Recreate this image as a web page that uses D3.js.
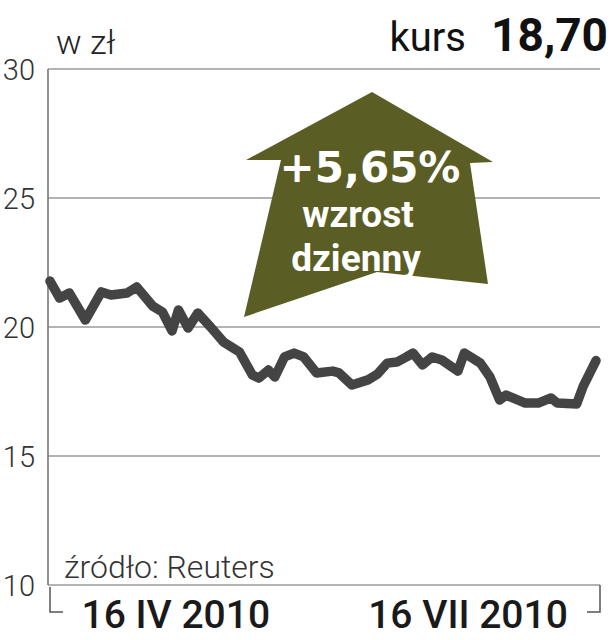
<!DOCTYPE html>
<html>
<head>
<meta charset="utf-8">
<script src="https://cdn.jsdelivr.net/npm/d3@7"></script>
<style>
  body { margin: 0; background: #fff; }
  svg { display: block; }
</style>
</head>
<body>
<svg id="chart" width="611" height="640"></svg>
<script>
// kurs akcji, marzec - sierpien 2010
const dates = [
  "2010-03-08", "2010-03-11", "2010-03-14", "2010-03-19", "2010-03-24", "2010-03-27",
  "2010-04-01", "2010-04-04", "2010-04-09", "2010-04-12", "2010-04-15", "2010-04-17",
  "2010-04-20", "2010-04-23", "2010-04-27", "2010-05-01", "2010-05-03", "2010-05-06",
  "2010-05-10", "2010-05-12", "2010-05-15", "2010-05-17", "2010-05-20", "2010-05-23",
  "2010-05-26", "2010-05-30", "2010-06-04", "2010-06-06", "2010-06-10", "2010-06-15",
  "2010-06-18", "2010-06-21", "2010-06-24", "2010-06-27", "2010-06-29", "2010-07-02",
  "2010-07-05", "2010-07-08", "2010-07-13", "2010-07-15", "2010-07-20", "2010-07-23",
  "2010-07-26", "2010-07-28", "2010-08-03", "2010-08-07", "2010-08-11", "2010-08-13",
  "2010-08-19", "2010-08-21", "2010-08-25"
];
const prices = [
  21.78, 21.12, 21.32, 20.27, 21.36, 21.24,
  21.32, 21.55, 20.81, 20.58, 19.85, 20.66,
  19.96, 20.54, 20.00, 19.42, 19.26, 19.03,
  18.14, 18.02, 18.33, 18.06, 18.84, 18.99,
  18.84, 18.22, 18.29, 18.22, 17.75, 17.95,
  18.18, 18.60, 18.64, 18.84, 18.99, 18.53,
  18.84, 18.72, 18.29, 18.99, 18.60, 18.06,
  17.17, 17.36, 17.05, 17.05, 17.25, 17.05,
  17.02, 17.70, 18.70
];
const yTicks = [10, 15, 20, 25, 30];
const xTickDates = ["2010-04-16", "2010-07-16"];
const xTickLabels = ["16 IV 2010", "16 VII 2010"];
const domainDates = ["2010-03-08", "2010-08-25"];

const unit = "w zł";
const kursLabel = "kurs";
const kursValue = "18,70";
const changeLines = ["+5,65%", "wzrost", "dzienny"];
const source = "źródło: Reuters";

const parse = d3.timeParse("%Y-%m-%d");
const data = dates.map((d, i) => ({ date: parse(d), value: prices[i] }));

const svg = d3.select("#chart");
const plotLeft = 48, plotRight = 600, plotTop = 69, plotBottom = 585;

const x = d3.scaleTime()
  .domain(domainDates.map(parse))
  .range([50, 596]);
const y = d3.scaleLinear()
  .domain([10, 30])
  .range([plotBottom, plotTop]);

// siatka + etykiety osi Y
const yAxis = d3.axisLeft(y)
  .tickValues(yTicks)
  .tickSize(0)
  .tickPadding(13);
const gy = svg.append("g")
  .attr("transform", `translate(${plotLeft},0)`)
  .call(yAxis);
gy.select(".domain").remove();
gy.selectAll("text")
  .attr("font-family", "Roboto, sans-serif")
  .attr("font-weight", 300)
  .attr("font-size", 29)
  .attr("fill", "#333")
  .attr("dy", "0.36em");

svg.append("g")
  .selectAll("line")
  .data(yTicks)
  .join("line")
  .attr("x1", plotLeft)
  .attr("x2", plotRight)
  .attr("y1", d => y(d))
  .attr("y2", d => y(d))
  .attr("stroke", "#9a9a9a")
  .attr("stroke-width", 1.6);

svg.append("line")
  .attr("x1", plotLeft).attr("x2", plotLeft)
  .attr("y1", plotTop).attr("y2", plotBottom)
  .attr("stroke", "#777")
  .attr("stroke-width", 1.6);

// nawias pod osia X
svg.append("path")
  .attr("d", `M50,${plotBottom + 2}V612H63 M${plotRight},${plotBottom}V612H587`)
  .attr("fill", "none")
  .attr("stroke", "#555")
  .attr("stroke-width", 1.5);

const xAxis = d3.axisBottom(x)
  .tickValues(xTickDates.map(parse))
  .tickFormat((d, i) => xTickLabels[i])
  .tickSize(0)
  .tickPadding(0);
const gx = svg.append("g")
  .attr("transform", `translate(0,${plotBottom})`)
  .call(xAxis);
gx.select(".domain").remove();
gx.selectAll("text")
  .attr("font-family", "Roboto, sans-serif")
  .attr("font-weight", 500)
  .attr("font-size", 39)
  .attr("fill", "#1a1a1a")
  .attr("dy", "1.1em");

// strzalka
const arrow = [[372, 92], [493, 162], [470, 163], [488, 284], [377, 272], [244, 317], [281, 160], [246, 160]];
svg.append("path")
  .attr("d", d3.line()(arrow) + "Z")
  .attr("fill", "#5a5d24");

svg.append("text")
  .attr("x", 370).attr("y", 182)
  .attr("text-anchor", "middle")
  .attr("font-family", "'DejaVu Sans', sans-serif")
  .attr("font-weight", 700)
  .attr("font-size", 42)
  .attr("fill", "#fff")
  .text(changeLines[0]);
svg.append("text")
  .attr("x", 358).attr("y", 227)
  .attr("text-anchor", "middle")
  .attr("font-family", "Roboto, sans-serif")
  .attr("font-weight", 700)
  .attr("font-size", 37)
  .attr("fill", "#fff")
  .text(changeLines[1]);
svg.append("text")
  .attr("x", 356).attr("y", 271)
  .attr("text-anchor", "middle")
  .attr("font-family", "Roboto, sans-serif")
  .attr("font-weight", 700)
  .attr("font-size", 37)
  .attr("fill", "#fff")
  .text(changeLines[2]);

// linia kursu
svg.append("path")
  .datum(data)
  .attr("d", d3.line().x(d => x(d.date)).y(d => y(d.value)))
  .attr("fill", "none")
  .attr("stroke", "#444")
  .attr("stroke-width", 9.5)
  .attr("stroke-linejoin", "round")
  .attr("stroke-linecap", "round");

// naglowek
svg.append("text")
  .attr("x", 56).attr("y", 54)
  .attr("font-family", "Roboto, sans-serif")
  .attr("font-weight", 300)
  .attr("font-size", 34)
  .attr("fill", "#222")
  .text(unit);
svg.append("text")
  .attr("x", 466).attr("y", 51)
  .attr("text-anchor", "end")
  .attr("font-family", "Roboto, sans-serif")
  .attr("font-weight", 400)
  .attr("font-size", 40)
  .attr("fill", "#111")
  .text(kursLabel);
svg.append("text")
  .attr("x", 608).attr("y", 51)
  .attr("text-anchor", "end")
  .attr("font-family", "Roboto, sans-serif")
  .attr("font-weight", 700)
  .attr("font-size", 46)
  .attr("fill", "#111")
  .text(kursValue);

svg.append("text")
  .attr("x", 64).attr("y", 578)
  .attr("font-family", "Roboto, sans-serif")
  .attr("font-weight", 300)
  .attr("font-size", 32)
  .attr("fill", "#333")
  .text(source);
</script>
</body>
</html>
